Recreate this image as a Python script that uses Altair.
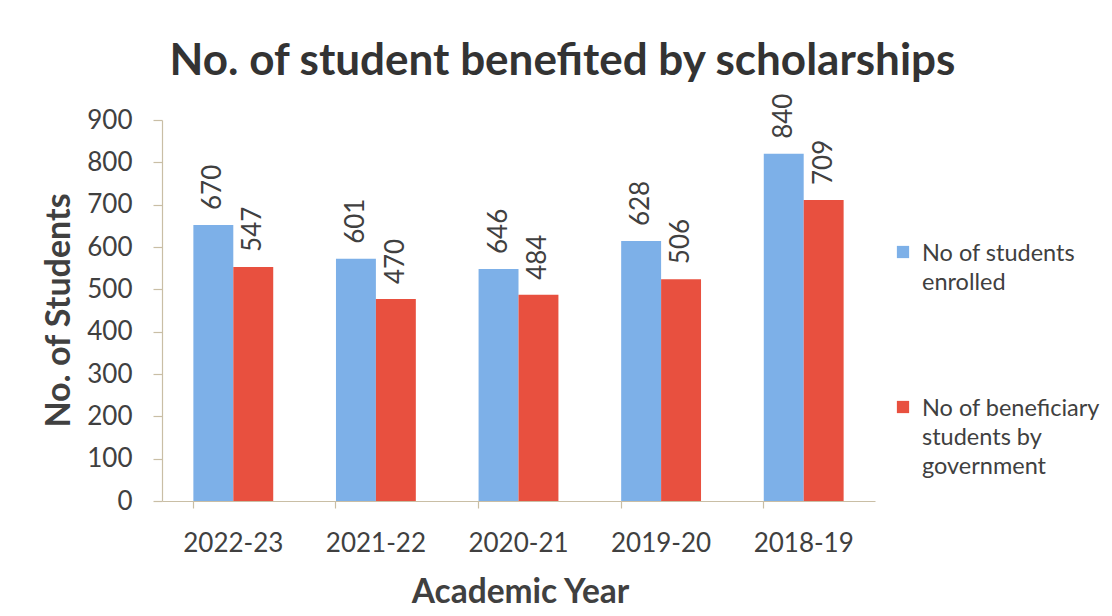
import altair as alt
import pandas as pd

# ---- data ----
years = ["2022-23", "2021-22", "2020-21", "2019-20", "2018-19"]
series_names = ["No of students enrolled", "No of beneficiary students by government"]
# bar heights as drawn
enrolled_bar = [652, 572, 548, 614, 820]
beneficiary_bar = [553, 477, 487, 524, 711]
# value labels as printed
enrolled_label = [670, 601, 646, 628, 840]
beneficiary_label = [547, 470, 484, 506, 709]
y_ticks = [0, 100, 200, 300, 400, 500, 600, 700, 800, 900]
colors = ["#7DB0E8", "#E8503F"]
legend_texts = ["No of students\nenrolled", "No of beneficiary\nstudents by\ngovernment"]

rows = []
for i, yr in enumerate(years):
    rows.append({"year": yr, "series": series_names[0], "value": enrolled_bar[i], "label": enrolled_label[i]})
    rows.append({"year": yr, "series": series_names[1], "value": beneficiary_bar[i], "label": beneficiary_label[i]})
df = pd.DataFrame(rows)

FONT = "Lato"
TXT = "#404040"
AXC = "#C9BEA5"

x_enc = alt.X(
    "year:N", sort=years, title="Academic Year",
    scale=alt.Scale(paddingInner=0.44, paddingOuter=0.22),
    axis=alt.Axis(
        bandPosition=0, tickSize=7, labelPadding=22, labelAngle=0,
        labelFontSize=26, labelFont=FONT, labelColor=TXT,
        titleFontSize=33.5, titleFont=FONT, titleFontWeight="bold", titleColor=TXT,
        titleX=358, titleY=101, titleBaseline="alphabetic",
        domainColor=AXC, tickColor=AXC, domainWidth=1.2, tickWidth=1.2,
    ),
)
xo_enc = alt.XOffset("series:N", sort=series_names, scale=alt.Scale(paddingInner=0, paddingOuter=0))
y_enc = alt.Y(
    "value:Q", title="No. of Students",
    scale=alt.Scale(domain=[0, 900], nice=False),
    axis=alt.Axis(
        values=y_ticks, grid=False, tickSize=9, labelPadding=21,
        labelFontSize=26, labelFont=FONT, labelColor=TXT,
        titleFontSize=34, titleFont=FONT, titleFontWeight="bold", titleColor=TXT,
        titleX=-93, titleY=190, titleAngle=270, titleBaseline="alphabetic", titleAlign="center",
        domainColor=AXC, tickColor=AXC, domainWidth=1.2, tickWidth=1.2,
    ),
)
color_enc = alt.Color("series:N", scale=alt.Scale(domain=series_names, range=colors), legend=None)

bars = alt.Chart(df).mark_bar(opacity=1).encode(x=x_enc, xOffset=xo_enc, y=y_enc, color=color_enc)
labels = alt.Chart(df).mark_text(
    angle=270, align="left", baseline="middle", dx=15, fontSize=26, font=FONT, color=TXT
).encode(x=x_enc, xOffset=xo_enc, y="value:Q", text="label:Q")

one = pd.DataFrame({"k": [0]})
leg = []
leg_sym_y = [132, 287]
for i in range(2):
    leg.append(alt.Chart(one).mark_square(size=150, color=colors[i], opacity=1).encode(
        x=alt.value(741), y=alt.value(leg_sym_y[i])))
    leg.append(alt.Chart(one).mark_text(
        align="left", baseline="alphabetic", fontSize=23.5, font=FONT, color=TXT,
        lineBreak="\n", lineHeight=29).encode(
        x=alt.value(760), y=alt.value(leg_sym_y[i] + 9), text=alt.value(legend_texts[i])))

chart = alt.layer(bars, labels, *leg).properties(
    width=713, height=381,
    title=alt.TitleParams(
        "No. of student benefited by scholarships", fontSize=44, font=FONT,
        fontWeight="bold", color="#333333", dx=44, offset=10, anchor="middle"),
    autosize=alt.AutoSizeParams(type="none"),
    padding={"left": 154, "top": 112, "right": 229, "bottom": 107},
).configure(background="white").configure_view(stroke=None)

chart.save("out.html", embed_options={"renderer": "svg", "actions": False})
